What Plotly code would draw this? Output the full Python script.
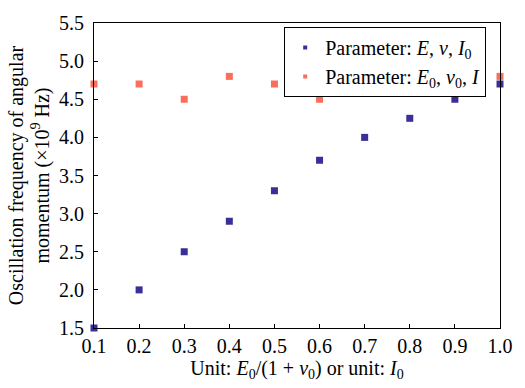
import plotly.graph_objects as go

x_vals = [0.1, 0.2, 0.3, 0.4, 0.5, 0.6, 0.7, 0.8, 0.9, 1.0]
series_a = [1.5, 2.0, 2.5, 2.9, 3.3, 3.7, 4.0, 4.25, 4.5, 4.7]
series_b = [4.7, 4.7, 4.5, 4.8, 4.7, 4.5, 4.8, 4.8, 4.8, 4.8]
name_a = "Parameter: <i>E</i>, <i>v</i>, <i>I</i><sub>0</sub>"
name_b = "Parameter: <i>E</i><sub>0</sub>, <i>v</i><sub>0</sub>, <i>I</i>"
x_ticks = [0.1, 0.2, 0.3, 0.4, 0.5, 0.6, 0.7, 0.8, 0.9, 1.0]
y_ticks = [1.5, 2.0, 2.5, 3.0, 3.5, 4.0, 4.5, 5.0, 5.5]

FONT = "Liberation Serif, Times New Roman, serif"
COL_A = "#3a2f98"
COL_B = "#fa6e5c"

fig = go.Figure()
fig.add_trace(go.Scatter(x=x_vals, y=series_a, mode="markers", name=name_a, showlegend=False,
                         marker=dict(symbol="square", size=7, color=COL_A),
                         cliponaxis=False))
fig.add_trace(go.Scatter(x=x_vals, y=series_b, mode="markers", name=name_b, showlegend=False,
                         marker=dict(symbol="square", size=7, color=COL_B),
                         cliponaxis=False))
# legend entries with the small legend symbols
fig.add_trace(go.Scatter(x=[None], y=[None], mode="markers", name=name_a,
                         marker=dict(symbol="square", size=4, color=COL_A)))
fig.add_trace(go.Scatter(x=[None], y=[None], mode="markers", name=name_b,
                         marker=dict(symbol="square", size=4, color=COL_B)))

axis_common = dict(showline=True, linecolor="black", linewidth=1, mirror=True,
                   ticks="inside", ticklen=4, tickcolor="black", showgrid=False,
                   zeroline=False, tickfont=dict(family=FONT, size=20, color="black"))

fig.update_layout(
    width=525, height=388,
    margin=dict(l=94, r=13, t=13, b=60),
    paper_bgcolor="white", plot_bgcolor="white",
    font=dict(family=FONT, size=20, color="black"),
    xaxis=dict(range=[0.1, 1.0], tickvals=x_ticks, ticktext=[f"{v:.1f}" for v in x_ticks],
               title=dict(text="Unit: <i>E</i><sub>0</sub>/(1 + <i>v</i><sub>0</sub>) or unit: <i>I</i><sub>0</sub>",
                          font=dict(family=FONT, size=20), standoff=2),
               **axis_common),
    yaxis=dict(range=[1.5, 5.5], tickvals=y_ticks, ticktext=[f"{v:.1f}" for v in y_ticks],
               ticklabelstandoff=5,
               title=dict(text="Oscillation frequency of angular<br>momentum (×10<sup>9</sup> Hz)",
                          font=dict(family=FONT, size=20), standoff=4),
               **axis_common),
    legend=dict(x=0.966, y=0.987, xanchor="right", yanchor="top",
                bordercolor="black", borderwidth=1, bgcolor="white",
                font=dict(family=FONT, size=20), tracegroupgap=0,
                itemwidth=30, itemsizing="trace"),
)

fig.write_html("out.html")
